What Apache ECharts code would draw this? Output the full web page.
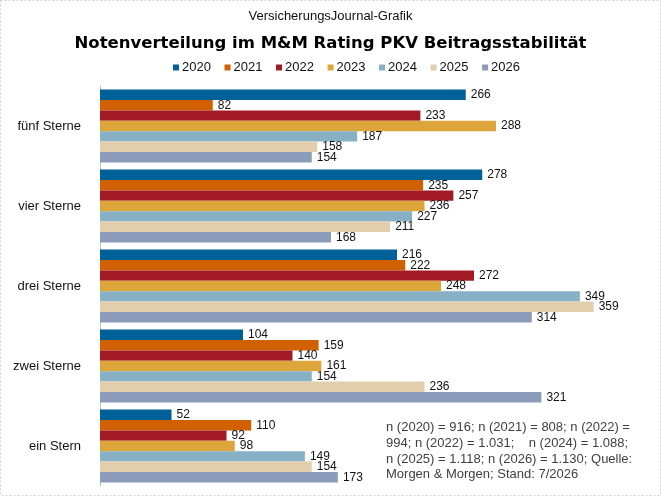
<!DOCTYPE html>
<html>
<head>
<meta charset="utf-8">
<script src="https://cdn.jsdelivr.net/npm/echarts@6/dist/echarts.min.js"></script>
<style>
  html, body { margin: 0; padding: 0; background: #fff; }
  #chart { width: 661px; height: 496px; }
</style>
</head>
<body>
<div id="chart"></div>
<script>
// Daten
var kategorien = ['fünf Sterne', 'vier Sterne', 'drei Sterne', 'zwei Sterne', 'ein Stern'];
var jahre = ['2020', '2021', '2022', '2023', '2024', '2025', '2026'];
var werte2020 = [266, 278, 216, 104, 52];
var werte2021 = [82, 235, 222, 159, 110];
var werte2022 = [233, 257, 272, 140, 92];
var werte2023 = [288, 236, 248, 161, 98];
var werte2024 = [187, 227, 349, 154, 149];
var werte2025 = [158, 211, 359, 236, 154];
var werte2026 = [154, 168, 314, 321, 173];
var farben = ['#006098', '#D06000', '#A31A27', '#DDA63A', '#87B0C4', '#E2CDAC', '#8A9CBA'];

var alleWerte = [werte2020, werte2021, werte2022, werte2023, werte2024, werte2025, werte2026];

var myChart = echarts.init(document.getElementById('chart'));

var series = []
for (var i = 0; i < jahre.length; i++) {
    series.push({
        name: jahre[i],
        type: 'bar',
        data: alleWerte[i],
        barGap: '0%',
        barCategoryGap: '9%',
        itemStyle: { color: farben[i] },
        label: {
            show: true,
            position: 'right',
            distance: 5,
            color: '#111',
            fontSize: 12,
            fontFamily: 'Liberation Sans'
        }
    })
}

var option = {
    animation: false,
    textStyle: { fontFamily: 'Liberation Sans' },
    title: [{
        text: 'VersicherungsJournal-Grafik',
        left: 'center',
        top: 5,
        textStyle: { fontSize: 13, fontWeight: 'normal', color: '#111', fontFamily: 'Liberation Sans' }
    }, {
        text: 'Notenverteilung im M&M Rating PKV Beitragsstabilität',
        left: 'center',
        top: 30,
        textStyle: { fontSize: 16.5, fontWeight: 'bold', color: '#000', fontFamily: 'DejaVu Sans' }
    }],
    legend: {
        data: jahre,
        top: 56,
        left: 168,
        icon: 'rect',
        itemWidth: 6,
        itemHeight: 6,
        itemGap: 13.6,
        textStyle: { fontSize: 13, color: '#111', padding: [0, 0, 0, -2] }
    },
    grid: {
        left: 100,
        top: 86,
        width: 550,
        height: 400
    },
    xAxis: {
        type: 'value',
        min: 0,
        max: 400,
        show: false
    },
    yAxis: {
        type: 'category',
        data: kategorien,
        inverse: true,
        axisLine: { lineStyle: { color: '#BFBFBF' } },
        axisTick: { length: 4, lineStyle: { color: '#BFBFBF' } },
        axisLabel: { fontSize: 13, color: '#111', margin: 19 }
    },
    graphic: [{
        type: 'rect',
        shape: { x: 0.5, y: 0.5, width: 660, height: 495 },
        style: { fill: 'none', stroke: '#D0D0D0', lineDash: [2, 2] }
    }, {
        type: 'text',
        left: 386,
        top: 420,
        style: {
            text: 'n (2020) = 916; n (2021) = 808; n (2022) =\n994; n (2022) = 1.031;    n (2024) = 1.088;\nn (2025) = 1.118; n (2026) = 1.130; Quelle:\nMorgen & Morgen; Stand: 7/2026',
            font: '13px "Liberation Sans"',
            fill: '#404040',
            lineHeight: 15.6
        }
    }],
    series: series
}

myChart.setOption(option);
</script>
</body>
</html>
